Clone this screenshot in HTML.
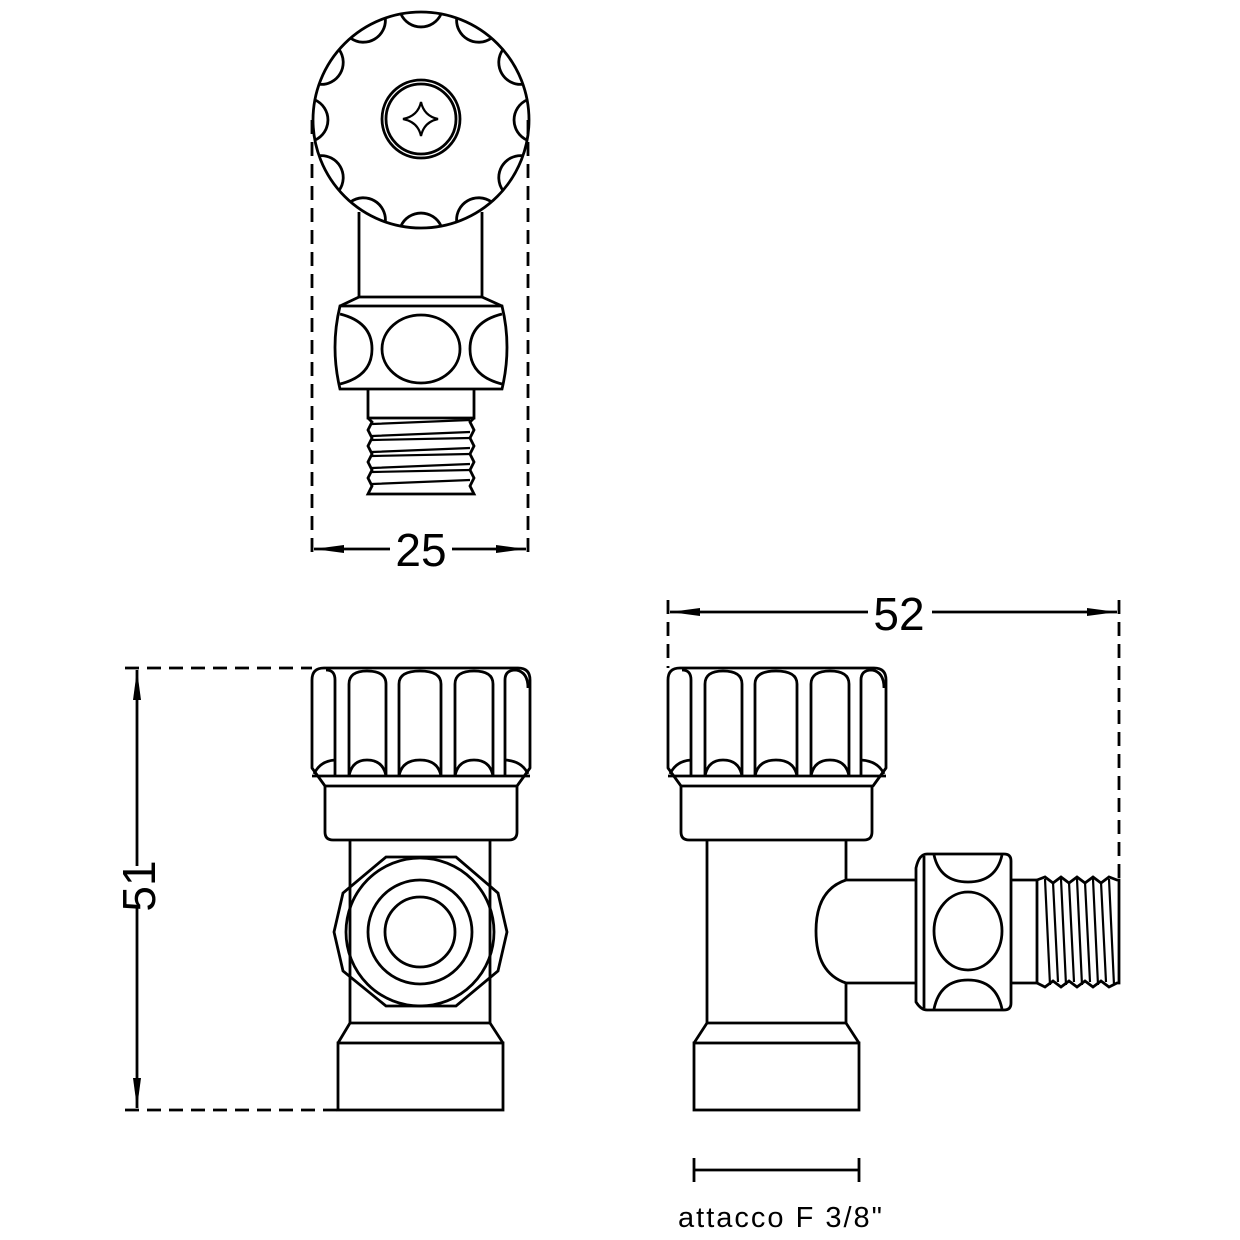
<!DOCTYPE html>
<html><head><meta charset="utf-8"><style>
html,body{margin:0;padding:0;background:#fff}
svg{display:block}
text{font-family:"Liberation Sans",sans-serif;fill:#000}
</style></head><body>
<svg width="1240" height="1240" viewBox="0 0 1240 1240" xmlns="http://www.w3.org/2000/svg">
<defs>
<marker id="ar" viewBox="0 0 30 10" refX="30" refY="5" markerWidth="30" markerHeight="10" markerUnits="userSpaceOnUse" orient="auto-start-reverse"><path d="M0,1 L30,5 L0,9 Z" fill="#000"/></marker>
<g id="knob" fill="none" stroke="#000" stroke-width="2.8" stroke-linejoin="round">
  <path d="M0,100 L0,12 Q0,0 12,0 L206,0 Q218,0 218,12 L218,100 L205,118 L13,118 Z"/>
  <line x1="0" y1="108" x2="218" y2="108"/>
  <path d="M23,108 L23,12 Q23,2 14,2"/>
  <path d="M37,108 L37,16 Q37,3 55,3 Q74,3 74,16 L74,108"/>
  <path d="M87,108 L87,16 Q87,3 108,3 Q129,3 129,16 L129,108"/>
  <path d="M143,108 L143,16 Q143,3 162,3 Q181,3 181,16 L181,108"/>
  <path d="M193,108 L193,12 Q193,2 204,2 Q216,4 216,20"/>
  <path d="M2,106 Q8,93 23,92"/>
  <path d="M37,108 Q40,92 55,92 Q71,92 74,108"/>
  <path d="M87,108 Q90,92 108,92 Q126,92 129,108"/>
  <path d="M143,108 Q146,92 162,92 Q178,92 181,108"/>
  <path d="M193,92 Q210,93 216,106"/>
</g>
</defs>
<g fill="none" stroke="#000" stroke-width="2.8">
<!-- TOP VIEW -->
<circle cx="421" cy="120" r="108"/>
<path d="M400.9,13.9 A22,22 0 0 0 441.1,13.9 M456.7,18.1 A22,22 0 0 0 491.4,38.1 M502.9,49.6 A22,22 0 0 0 522.9,84.3 M527.1,99.9 A22,22 0 0 0 527.1,140.1 M522.9,155.7 A22,22 0 0 0 502.9,190.4 M491.4,201.9 A22,22 0 0 0 456.7,221.9 M441.1,226.1 A22,22 0 0 0 400.9,226.1 M385.3,221.9 A22,22 0 0 0 350.6,201.9 M339.1,190.4 A22,22 0 0 0 319.1,155.7 M314.9,140.1 A22,22 0 0 0 314.9,99.9 M319.1,84.3 A22,22 0 0 0 339.1,49.6 M350.6,38.1 A22,22 0 0 0 385.3,18.1"/>
<circle cx="421" cy="119" r="39"/>
<circle cx="421" cy="119" r="35"/>
<path d="M421,102 Q424,116 438,119 Q424,122 421,136 Q418,122 403,119 Q418,116 421,102 Z" stroke-width="2.2"/>
<path d="M359,212 L359,298 M482,212 L482,298 M359,297 L482,297"/>
<path d="M359,297 L340,306 M482,297 L502,306"/>
<path d="M340,306 L502,306 Q512,347 502,389 L340,389 Q330,347 340,306 Z"/>
<ellipse cx="421" cy="349" rx="39" ry="34"/>
<path d="M340,314 Q372,322 372,349 Q372,376 340,384"/>
<path d="M502,314 Q470,322 470,349 Q470,376 502,384"/>
<path d="M368,389 L368,418 L474,418 L474,389"/>
<path d="M368,418 L372,422 L368,430 L372,438 L368,446 L372,454 L368,462 L372,470 L368,478 L372,486 L368,494 L474,494 L470,486 L474,478 L470,470 L474,462 L470,454 L474,446 L470,438 L474,430 L470,422 L474,418"/>
<path d="M372,424 L470,420 M372,436 L470,432 M372,440 L470,438 M372,452 L470,448 M372,456 L470,454 M372,468 L470,464 M372,472 L470,470 M372,484 L470,480" stroke-width="2.2"/>
<!-- dims top -->
<path d="M312,120 L312,558 M528,120 L528,558" stroke-dasharray="14,8"/>
<line x1="314" y1="549" x2="390" y2="549" marker-start="url(#ar)"/>
<line x1="452" y1="549" x2="526" y2="549" marker-end="url(#ar)"/>

<!-- LEFT FRONT VIEW -->
<use href="#knob" x="312" y="668"/>
<path d="M325,786 L325,832 Q325,840 333,840 L509,840 Q517,840 517,832 L517,786"/>
<path d="M350,840 L350,1023 M490,840 L490,1023 M350,1023 L490,1023"/>
<path d="M350,1023 L338,1043 M490,1023 L503,1043"/>
<rect x="338" y="1043" width="165" height="67"/>
<path d="M386,857 L456,857 L498,893 L507,932 L498,971 L456,1006 L386,1006 L343,971 L334,932 L343,893 Z"/>
<circle cx="420" cy="932" r="74"/>
<circle cx="420" cy="932" r="52"/>
<circle cx="420" cy="932" r="35"/>
<!-- dims 51 -->
<path d="M125,668 L312,668 M125,1110 L338,1110" stroke-dasharray="14,8"/>
<line x1="137" y1="670" x2="137" y2="866" marker-start="url(#ar)"/>
<line x1="137" y1="906" x2="137" y2="1108" marker-end="url(#ar)"/>

<!-- RIGHT SIDE VIEW -->
<use href="#knob" x="668" y="668"/>
<path d="M681,786 L681,832 Q681,840 689,840 L864,840 Q872,840 872,832 L872,786"/>
<path d="M707,840 L707,1023 M846,840 L846,880 M846,983 L846,1023 M707,1023 L846,1023"/>
<path d="M707,1023 L694,1043 M846,1023 L859,1043"/>
<rect x="694" y="1043" width="165" height="67"/>
<path d="M846,880 Q816,890 816,931 Q816,973 846,983"/>
<path d="M846,880 L916,880 M846,983 L916,983"/>
<path d="M927,854 L1004,854 Q1011,854 1011,861 L1011,1003 Q1011,1010 1004,1010 L927,1010 Q921,1010 916,1002 L916,868 Q919,854 927,854 Z"/>
<line x1="924" y1="856" x2="924" y2="1008"/>
<ellipse cx="968" cy="931" rx="34" ry="39"/>
<path d="M934,855 Q940,882 968,882 Q996,882 1002,855"/>
<path d="M934,1009 Q940,980 968,980 Q996,980 1002,1009"/>
<path d="M1011,880 L1037,880 L1037,983 L1011,983"/>
<path d="M1037,880 L1045,877 L1053,883 L1061,877 L1069,883 L1077,877 L1085,883 L1093,877 L1101,883 L1109,877 L1117,880 L1119,880 L1119,983 L1117,983 L1109,987 L1101,981 L1093,987 L1085,981 L1077,987 L1069,981 L1061,987 L1053,981 L1045,987 L1037,983"/>
<path d="M1045,879 L1050,985 M1053,882 L1058,982 M1061,879 L1066,985 M1069,882 L1074,982 M1077,879 L1082,985 M1085,882 L1090,982 M1093,879 L1098,985 M1101,882 L1106,982 M1109,879 L1114,985" stroke-width="2.2"/>
<!-- dims 52 -->
<path d="M668,600 L668,668 M1119,600 L1119,880" stroke-dasharray="14,8"/>
<line x1="670" y1="612" x2="868" y2="612" marker-start="url(#ar)"/>
<line x1="932" y1="612" x2="1117" y2="612" marker-end="url(#ar)"/>
<!-- attacco -->
<line x1="694" y1="1170" x2="859" y2="1170"/>
<line x1="694" y1="1158" x2="694" y2="1182"/>
<line x1="859" y1="1158" x2="859" y2="1182"/>
</g>
<text x="421" y="566" font-size="46" text-anchor="middle">25</text>
<text x="899" y="630" font-size="46" text-anchor="middle">52</text>
<text x="0" y="0" font-size="46" text-anchor="middle" transform="translate(155,886) rotate(-90)">51</text>
<text x="781" y="1227" font-size="29" text-anchor="middle" letter-spacing="2">attacco F 3/8"</text>
</svg>
</body></html>
